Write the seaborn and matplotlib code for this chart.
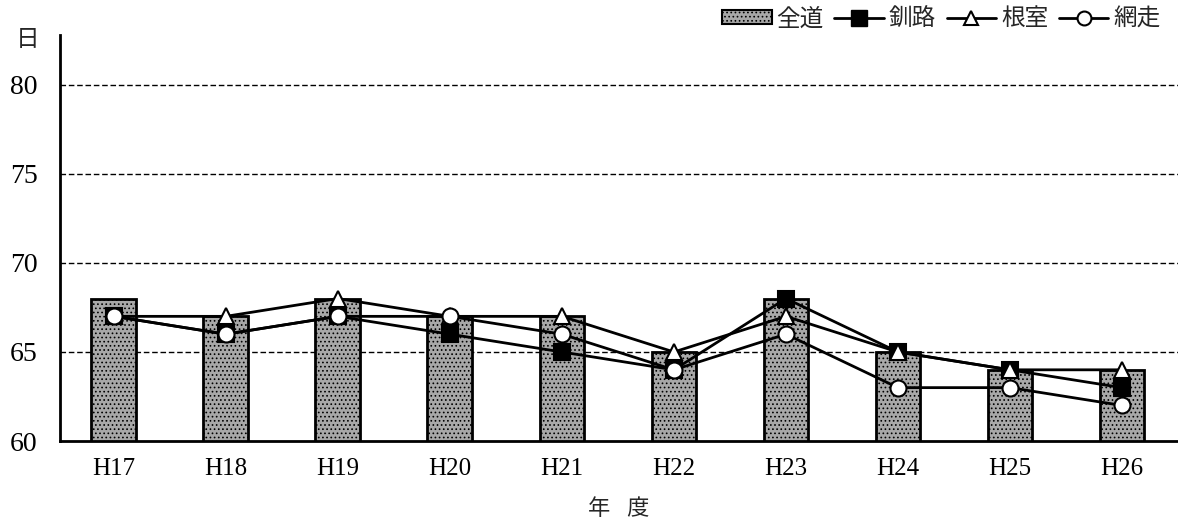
import matplotlib
matplotlib.use("Agg")
import matplotlib.pyplot as plt
from matplotlib.patches import Patch
from matplotlib.lines import Line2D
import pandas as pd
import seaborn as sns

years = ["H17", "H18", "H19", "H20", "H21", "H22", "H23", "H24", "H25", "H26"]
zendo = [68, 67, 68, 67, 67, 65, 68, 65, 64, 64]      # 全道 (bars)
kushiro = [67, 66, 67, 66, 65, 64, 68, 65, 64, 63]    # 釧路
nemuro = [67, 67, 68, 67, 67, 65, 67, 65, 64, 64]     # 根室
abashiri = [67, 66, 67, 67, 66, 64, 66, 63, 63, 62]   # 網走

df = pd.DataFrame({"年度": years, "全道": zendo, "釧路": kushiro,
                   "根室": nemuro, "網走": abashiri})

sns.set_style("white")
plt.rcParams["font.family"] = ["Liberation Serif", "Noto Sans CJK JP"]
plt.rcParams["hatch.linewidth"] = 0.7

fig = plt.figure(figsize=(11.78, 5.27), dpi=100)
ax = fig.add_axes([0.051, 0.163, 0.949, 0.771])

bar_fc = "#a8a8a8"
sns.barplot(data=df, x="年度", y="全道", color=bar_fc, saturation=1, width=0.4,
            edgecolor="black", linewidth=2, hatch="....", ax=ax, zorder=2)

series = [("釧路", "s", "black"), ("根室", "^", "white"), ("網走", "o", "white")]
for i, (name, mk, fc) in enumerate(series):
    sns.pointplot(data=df, x="年度", y=name, color="black", marker=mk,
                  markersize=11.5, linewidth=2, markerfacecolor=fc,
                  markeredgecolor="black", markeredgewidth=1.5, ax=ax,
                  zorder=4 + i)

ax.set_ylim(60, 82.8)
ax.set_xlim(-0.48, 9.5)
ax.set_yticks([60, 65, 70, 75, 80])
for y in [65, 70, 75, 80]:
    ax.axhline(y, color="black", lw=1, ls=(0, (4, 2)), zorder=1)

for s in ["top", "right"]:
    ax.spines[s].set_visible(False)
for s in ["left", "bottom"]:
    ax.spines[s].set_color("black")
    ax.spines[s].set_linewidth(2)

ax.tick_params(axis="both", length=0, colors="black")
ax.tick_params(axis="y", pad=16, labelsize=20)
ax.tick_params(axis="x", pad=12, labelsize=18)
ax.set_ylabel("")
ax.set_xlabel("年   度", fontsize=16, labelpad=14)
fig.text(28 / 1178, 1 - 40 / 527, "日", ha="center", va="center", fontsize=17)

handles = [
    Patch(facecolor=bar_fc, edgecolor="black", hatch="....", linewidth=1.5),
    Line2D([], [], color="black", lw=2, marker="s", markersize=11,
           markerfacecolor="black", markeredgecolor="black"),
    Line2D([], [], color="black", lw=2, marker="^", markersize=10,
           markerfacecolor="white", markeredgecolor="black", markeredgewidth=1.5),
    Line2D([], [], color="black", lw=2, marker="o", markersize=10,
           markerfacecolor="white", markeredgecolor="black", markeredgewidth=1.5),
]
fig.legend(handles, ["全道", "釧路", "根室", "網走"], loc="upper right",
           bbox_to_anchor=(1.003, 1.025), ncol=4, frameon=False, fontsize=17,
           handlelength=2.1, handletextpad=0.2, columnspacing=0.45,
           handleheight=0.5)

fig.savefig("out.png", dpi=100)
